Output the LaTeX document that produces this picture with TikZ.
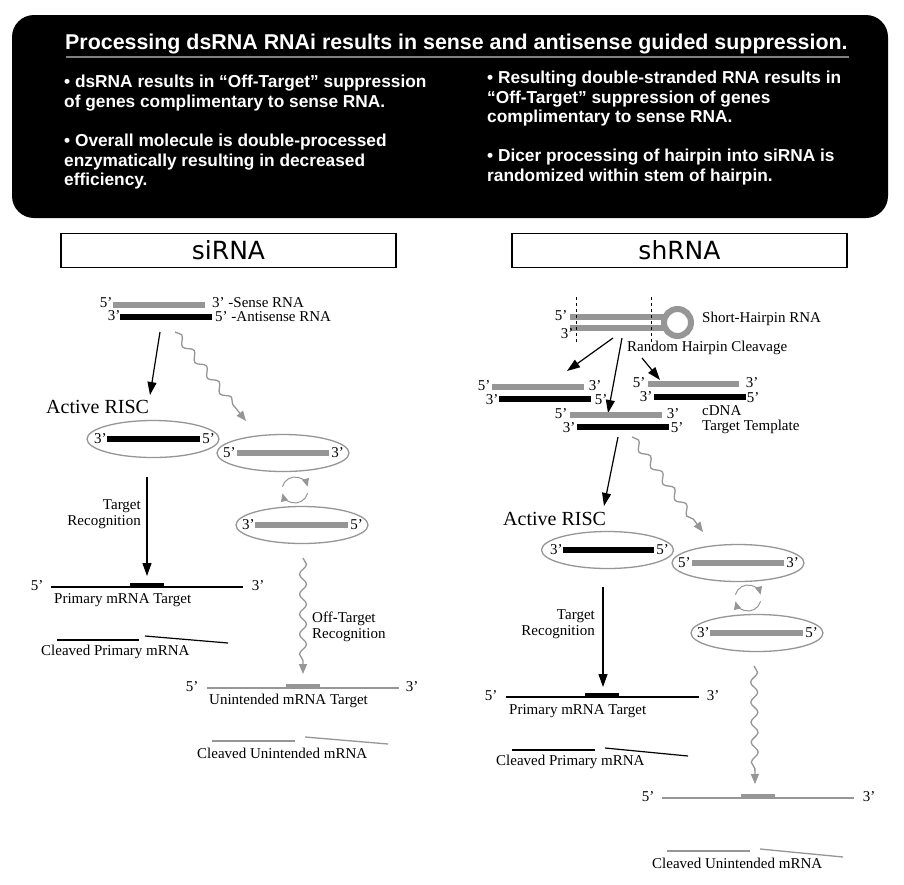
\documentclass[tikz,border=0pt]{standalone}
\usepackage{fontspec}
\setmainfont{Liberation Serif}
\newfontfamily\hdfont{Liberation Sans}
\newfontfamily\boxfont{DejaVu Sans}
\usetikzlibrary{shapes.geometric,arrows.meta,decorations.pathmorphing}
\definecolor{barg}{RGB}{150,150,150}
\definecolor{ellg}{RGB}{150,150,150}
\begin{document}
\begin{tikzpicture}[x=1pt,y=-1pt,
  lbl/.style={font=\fontsize{15}{16}\selectfont, inner sep=0pt},
  gbar/.style={rectangle, fill=barg, inner sep=0pt, minimum height=6pt},
  kbar/.style={rectangle, fill=black, inner sep=0pt, minimum height=6pt},
  risc/.style={ellipse, draw=ellg, line width=1.3pt, minimum width=132pt, minimum height=37pt, inner sep=0pt},
  karr/.style={-{Triangle[length=13pt,width=9pt]}, line width=1.2pt},
  warr/.style={color=barg, line width=1.3pt, -{Triangle[length=10pt,width=8pt]}, decorate, decoration={snake, amplitude=3.5pt, segment length=20pt, post length=12pt}},
  carr/.style={color=barg, line width=1pt, -{Triangle[length=8pt,width=7pt]}},
  hdr/.style={font=\hdfont\bfseries\fontsize{17.3}{19.5}\selectfont, text=white, align=left, anchor=north west, inner sep=0pt},
  boxlbl/.style={draw, line width=1.3pt, minimum width=335pt, minimum height=34pt, inner sep=0pt, font=\boxfont\fontsize{25}{25}\selectfont},
  mline/.style={line width=1.2pt},
  gline/.style={line width=1.3pt, barg},
]
\useasboundingbox (0,0) rectangle (904,884);
\fill[white] (0,0) rectangle (904,884);

% ---------- header ----------
\fill[black, rounded corners=22pt] (12,15) rectangle (888,218);
\node[anchor=west, inner sep=0pt, text=white, font=\hdfont\bfseries\fontsize{21.4}{21.4}\selectfont] (title) at (65,44) {Processing dsRNA RNAi results in sense and antisense guided suppression.};
\draw[line width=2pt, color=gray] (66,57) -- (849,57);
\node[hdr] (bl1) at (64,75) {• dsRNA results in “Off-Target” suppression\\of genes complimentary to sense RNA.};
\node[hdr] (bl2) at (64,134) {• Overall molecule is double-processed\\enzymatically resulting in decreased\\efficiency.};
\node[hdr] (br1) at (487,71) {• Resulting double-stranded RNA results in\\“Off-Target” suppression of genes\\complimentary to sense RNA.};
\node[hdr] (br2) at (487,149) {• Dicer processing of hairpin into siRNA is\\randomized within stem of hairpin.};

\node[boxlbl] (siBox) at (228.5,250.5) {siRNA};
\node[boxlbl] (shBox) at (679.5,250.5) {shRNA};

% ---------- siRNA ----------
\node[gbar, minimum width=92pt] (sS) at (159,305) {};
\node[kbar, minimum width=92pt] (sA) at (166,317) {};
\node[lbl] (sS5) at (106,303) {5’};
\node[lbl, anchor=west] (sS3) at (212,303) {3’ -Sense RNA};
\node[lbl] (sA3) at (114,316) {3’};
\node[lbl, anchor=west] (sA5) at (215,317) {5’ -Antisense RNA};

\coordinate (sa1) at (160,332); \coordinate (sa1e) at (150,395);
\draw[karr] (sa1) -- (sa1e);
\coordinate (sw1) at (175,332); \coordinate (sw1e) at (246,421);
\draw[warr] (sw1) -- (sw1e);

\node[lbl, font=\fontsize{20}{20}\selectfont, anchor=west] (sRISC) at (46,407) {Active RISC};

\node[risc] (sE1) at (153,439) {};
\node[kbar, minimum width=93pt] (sK1) at (153.5,439) {};
\node[lbl, anchor=east] (sK1a) at (sK1.west) {3’};
\node[lbl, anchor=west] (sK1b) at ([xshift=2pt]sK1.east) {5’};

\node[risc] (sE2) at (283,453) {};
\node[gbar, minimum width=92pt] (sG2) at (283,453) {};
\node[lbl, anchor=east] (sG2a) at ([xshift=-1pt]sG2.west) {5’};
\node[lbl, anchor=west] (sG2b) at ([xshift=2pt]sG2.east) {3’};

\coordinate (sC) at (295,490);
\draw[carr] (sC) ++(-165:13) arc (-165:-15:13);
\draw[carr] (sC) ++(15:13) arc (15:165:13);

\node[risc] (sE3) at (302,525) {};
\node[gbar, minimum width=93pt] (sG3) at (301.5,525) {};
\node[lbl, anchor=east] (sG3a) at (sG3.west) {3’};
\node[lbl, anchor=west] (sG3b) at ([xshift=2pt]sG3.east) {5’};

\coordinate (st1) at (147,477); \coordinate (st1e) at (147,576);
\draw[karr] (st1) -- (st1e);
\node[lbl, align=right, anchor=east] (sTR) at (141,514) {Target\\Recognition};

\coordinate (sm5) at (51,587); \coordinate (sm3) at (243,587);
\draw[mline] (sm5) -- (sm3);
\draw[line width=4pt] (130,584.5) -- (164,584.5);
\node[lbl] (sm5l) at (37,586) {5’};
\node[lbl] (sm3l) at (258,586) {3’};
\node[lbl, anchor=west] (sPT) at (54,600) {Primary mRNA Target};
\draw[mline] (57,640) -- (139,640);
\draw[mline] (145,636) -- (228,643);
\node[lbl, anchor=west] (sCP) at (41,652) {Cleaved Primary mRNA};

\coordinate (sw2) at (303,558); \coordinate (sw2e) at (303,674);
\draw[warr] (sw2) -- (sw2e);
\node[lbl, align=left, anchor=west] (sOT) at (312,627) {Off-Target\\Recognition};

\coordinate (su5) at (207,688); \coordinate (su3) at (399,688);
\draw[gline] (su5) -- (su3);
\draw[line width=4pt, barg] (286,685.5) -- (320,685.5);
\node[lbl] (su5l) at (192,687) {5’};
\node[lbl] (su3l) at (412,687) {3’};
\node[lbl, anchor=west] (sUT) at (209,701) {Unintended mRNA Target};
\draw[gline] (212,741) -- (295,741);
\draw[gline] (305,737) -- (388,744);
\node[lbl, anchor=west] (sCU) at (197,753) {Cleaved Unintended mRNA};

% ---------- shRNA ----------
\node[gbar, minimum width=94pt, minimum height=6pt] (hTop) at (617,317) {};
\node[gbar, minimum width=94pt, minimum height=6pt] (hBot) at (617,328) {};
\node[circle, draw=barg, line width=6pt, minimum size=27pt, inner sep=0pt] (hLoop) at (677.5,322.5) {};
\draw[dashed, line width=1pt] (576,297) -- (576,344);
\draw[dashed, line width=1pt] (651,297) -- (651,344);
\node[lbl] (h5) at (561,316) {5’};
\node[lbl] (h3) at (567,334) {3’};
\node[lbl, anchor=west] (hSH) at (702,319) {Short-Hairpin RNA};
\node[lbl, anchor=west] (hRC) at (627,348) {Random Hairpin Cleavage};

\coordinate (ha1) at (613,338); \coordinate (ha1e) at (567,371);
\coordinate (ha2) at (622,338); \coordinate (ha2e) at (608,413);
\coordinate (ha3) at (642,358); \coordinate (ha3e) at (660,380);
\draw[karr] (ha1) -- (ha1e);
\draw[karr] (ha2) -- (ha2e);
\draw[karr] (ha3) -- (ha3e);

% pair A
\node[gbar, minimum width=92pt] (pAg) at (538,387) {};
\node[kbar, minimum width=92pt] (pAk) at (545,399) {};
\node[lbl] at (484,386) {5’};
\node[lbl] at (595,386) {3’};
\node[lbl] at (492,400) {3’};
\node[lbl] at (601,400) {5’};
% pair B
\node[gbar, minimum width=91pt] (pBg) at (693.5,384) {};
\node[kbar, minimum width=92pt] (pBk) at (700,397) {};
\node[lbl] at (639,383) {5’};
\node[lbl] at (752,383) {3’};
\node[lbl] at (646,397) {3’};
\node[lbl] at (753,398) {5’};
% pair C
\node[gbar, minimum width=92pt] (pCg) at (616,415) {};
\node[kbar, minimum width=92pt] (pCk) at (623,427) {};
\node[lbl] at (561,414) {5’};
\node[lbl] at (673,414) {3’};
\node[lbl] at (569,428) {3’};
\node[lbl] at (677,428) {5’};
\node[lbl, align=left, anchor=west, font=\fontsize{15}{15}\selectfont] (hcd) at (702,420) {cDNA\\Target Template};

\coordinate (hb1) at (618,437); \coordinate (hb1e) at (604,506);
\draw[karr] (hb1) -- (hb1e);
\coordinate (hw1) at (632,437); \coordinate (hw1e) at (703,532);
\draw[warr] (hw1) -- (hw1e);

\node[lbl, font=\fontsize{20}{20}\selectfont, anchor=west] (hRISC) at (503,519) {Active RISC};

\node[risc] (hE1) at (607.5,550) {};
\node[kbar, minimum width=91pt] (hK1) at (608.5,550) {};
\node[lbl, anchor=east] at (hK1.west) {3’};
\node[lbl, anchor=west] at ([xshift=2pt]hK1.east) {5’};

\node[risc] (hE2) at (738,563) {};
\node[gbar, minimum width=92pt] (hG2) at (738,563) {};
\node[lbl, anchor=east] at ([xshift=-1pt]hG2.west) {5’};
\node[lbl, anchor=west] at ([xshift=2pt]hG2.east) {3’};

\coordinate (hC) at (748,598);
\draw[carr] (hC) ++(-165:13) arc (-165:-15:13);
\draw[carr] (hC) ++(15:13) arc (15:165:13);

\node[risc] (hE3) at (757,633) {};
\node[gbar, minimum width=93pt] (hG3) at (756.5,633) {};
\node[lbl, anchor=east] at (hG3.west) {3’};
\node[lbl, anchor=west] at ([xshift=2pt]hG3.east) {5’};

\node[lbl, align=right, anchor=east] (hTR) at (595,624) {Target\\Recognition};
\coordinate (ht1) at (603,587); \coordinate (ht1e) at (603,687);
\draw[karr] (ht1) -- (ht1e);

\coordinate (hm5) at (506,697); \coordinate (hm3) at (699,697);
\draw[mline] (hm5) -- (hm3);
\draw[line width=4pt] (585,694.5) -- (619,694.5);
\node[lbl] at (491,696) {5’};
\node[lbl] at (713,696) {3’};
\node[lbl, anchor=west] (hPT) at (509,711) {Primary mRNA Target};
\draw[mline] (512,750) -- (595,750);
\draw[mline] (605,748) -- (688,756);
\node[lbl, anchor=west] (hCP) at (496,762) {Cleaved Primary mRNA};

\coordinate (hw2) at (754,666); \coordinate (hw2e) at (755,784);
\draw[warr] (hw2) -- (hw2e);

\coordinate (hu5) at (662,798); \coordinate (hu3) at (854,798);
\draw[gline] (hu5) -- (hu3);
\draw[line width=4pt, barg] (741,795.5) -- (775,795.5);
\node[lbl] at (648,797) {5’};
\node[lbl] at (869,797) {3’};
\draw[gline] (667,851) -- (750,851);
\draw[gline] (760,849) -- (843,857);
\node[lbl, anchor=west] (hCU) at (652,863) {Cleaved Unintended mRNA};
\end{tikzpicture}
\end{document}
